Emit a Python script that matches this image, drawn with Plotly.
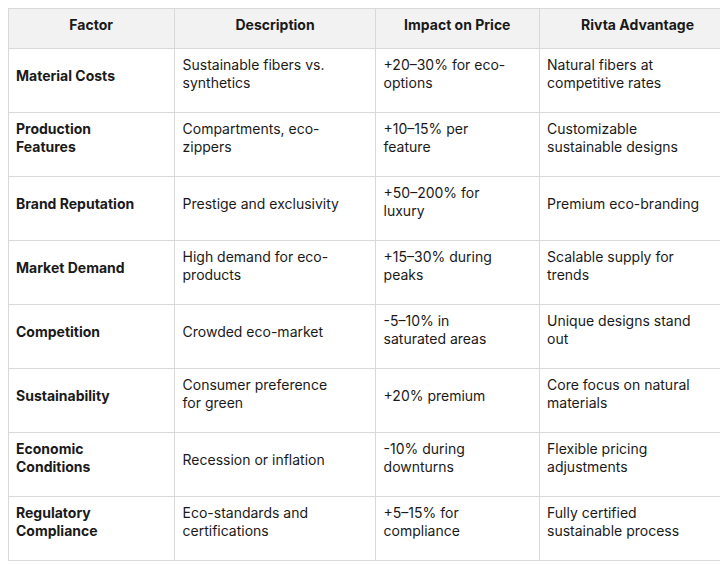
import plotly.graph_objects as go

headers = ['Factor', 'Description', 'Impact on Price', 'Rivta Advantage']

factors = ['Material Costs', 'Production<br>Features', 'Brand Reputation', 'Market Demand',
           'Competition', 'Sustainability', 'Economic<br>Conditions', 'Regulatory<br>Compliance']
descriptions = ['Sustainable fibers vs.<br>synthetics', 'Compartments, eco-<br>zippers',
                'Prestige and exclusivity', 'High demand for eco-<br>products',
                'Crowded eco-market', 'Consumer preference<br>for green',
                'Recession or inflation', 'Eco-standards and<br>certifications']
impacts = ['+20–30% for eco-<br>options', '+10–15% per<br>feature', '+50–200% for<br>luxury',
           '+15–30% during<br>peaks', '-5–10% in<br>saturated areas', '+20% premium',
           '-10% during<br>downturns', '+5–15% for<br>compliance']
advantages = ['Natural fibers at<br>competitive rates', 'Customizable<br>sustainable designs',
              'Premium eco-branding', 'Scalable supply for<br>trends', 'Unique designs stand<br>out',
              'Core focus on natural<br>materials', 'Flexible pricing<br>adjustments',
              'Fully certified<br>sustainable process']


def centre(texts):
    # single-line cells get nudged down so they sit in the middle like the original
    return [t if '<br>' in t else '<span style="font-size:7px"> </span><br>' + t for t in texts]


fig = go.Figure(go.Table(
    columnwidth=[164, 198, 161, 194],
    header=dict(values=['<b>%s</b>' % h for h in headers],
                fill_color='#f2f2f2', line_color='#d9d9d9', align='center', height=40,
                font=dict(family='Inter', size=14, color='#1a1a1a')),
    cells=dict(values=[centre(['<b>%s</b>' % f for f in factors]), centre(descriptions),
                       centre(impacts), centre(advantages)],
               fill_color='white', line_color='#d9d9d9', align='left', height=64,
               font=dict(family='Inter', size=14, color='#1a1a1a')),
))

fig.update_layout(width=728, height=565, margin=dict(l=0, r=0, t=0, b=0),
                  paper_bgcolor='white')

fig.write_html('out.html')
